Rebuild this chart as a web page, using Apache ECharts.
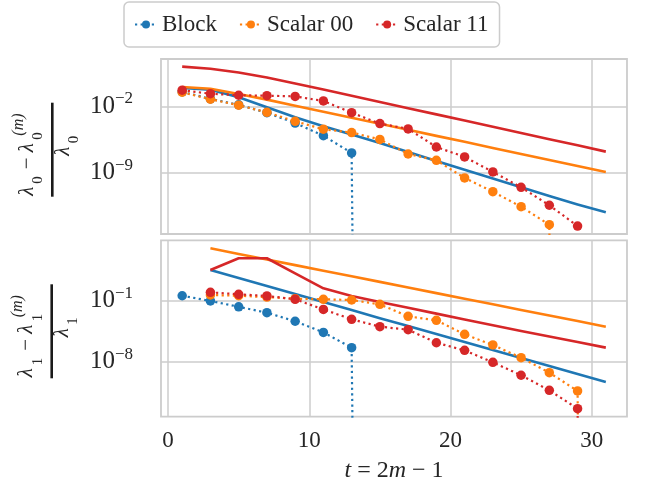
<!DOCTYPE html>
<html><head><meta charset="utf-8">
<script src="https://cdn.jsdelivr.net/npm/echarts@6/dist/echarts.min.js"></script>
<style>html,body{margin:0;padding:0;background:#fff}#c{width:654px;height:498px}</style>
</head><body><div id="c"></div>
<script>
// ---- data (errors; 0 = exact convergence) ----
const tBlock = [1, 3, 5, 7, 9, 11, 13, 15];
const tScalarTop = [1, 3, 5, 7, 9, 11, 13, 15, 17, 19, 21, 23, 25, 27, 29];
const tBoundTop = [1, 3, 5, 7, 9, 11, 13, 15, 17, 19, 21, 23, 25, 27, 29, 31];
const tBottom = [3, 5, 7, 9, 11, 13, 15, 17, 19, 21, 23, 25, 27, 29, 31];

// top panel: lambda_0
const blockTop = [3.3e-1, 6.0e-2, 1.4e-2, 2.1e-3, 1.7e-4, 7.9e-6, 1.2e-7, 0];
const scalar00Top = [3.0e-1, 5.5e-2, 1.3e-2, 2.3e-3, 2.6e-4, 3.8e-5, 1.7e-5, 3.2e-6, 9.3e-8, 2.0e-8, 2.8e-10, 1.0e-11, 2.6e-13, 3.3e-15, 0];
const scalar11Top = [4.9e-1, 2.1e-1, 1.45e-1, 1.3e-1, 1.1e-1, 3.6e-2, 2.1e-3, 1.5e-4, 4.1e-5, 5.1e-7, 4.6e-8, 1.2e-9, 2.9e-11, 3.7e-13, 2.4e-15];
const blockBoundTop = [8.5e-1, 5.6e-1, 8.9e-2, 7.8e-3, 6.9e-4, 7.8e-5, 1.07e-5, 1.35e-6, 1.5e-7, 1.74e-8, 2.0e-9, 2.4e-10, 2.9e-11, 3.5e-12, 4.5e-13, 6.8e-14];
const scalar00BoundTop = [1.07, 7.1e-1, 2.0e-1, 5.0e-2, 1.15e-2, 2.7e-3, 6.2e-4, 1.45e-4, 3.3e-5, 7.6e-6, 1.8e-6, 4.1e-7, 9.3e-8, 2.2e-8, 5.1e-9, 1.2e-9];
const scalar11BoundTop = [1.5e2, 91, 36, 10.7, 2.5, 5.8e-1, 1.3e-1, 2.8e-2, 6.3e-3, 1.4e-3, 3.1e-4, 6.9e-5, 1.55e-5, 3.4e-6, 7.6e-7, 1.66e-7];

// bottom panel: lambda_1
const blockBottom = [3.7e-1, 9.3e-2, 2.0e-2, 4.2e-3, 4.4e-4, 2.3e-5, 4.1e-7, 0];
const scalar00Bottom = [4.5e-1, 3.7e-1, 2.6e-1, 1.7e-1, 1.45e-1, 1.2e-1, 3.8e-2, 1.6e-3, 5.6e-4, 1.4e-5, 8.3e-7, 2.9e-8, 5.5e-10, 4.4e-12, 0];
const scalar11Bottom = [9.1e-1, 5.4e-1, 3.5e-1, 1.45e-1, 1.0e-2, 7.4e-4, 1.05e-4, 4.7e-5, 1.5e-6, 2.0e-7, 8.5e-9, 2.8e-10, 5.2e-12, 4.1e-14, 0];
const blockBoundBottom = [3.3e2, 40, 4.8, 5.9e-1, 7.1e-2, 8.5e-3, 1.0e-3, 1.23e-4, 1.5e-5, 1.8e-6, 2.2e-7, 2.6e-8, 3.2e-9, 3.9e-10, 4.7e-11];
const scalar00BoundBottom = [1.02e5, 2.3e4, 5.4e3, 1.2e3, 2.75e2, 63, 14.5, 3.2, 7.4e-1, 1.7e-1, 3.9e-2, 8.7e-3, 2.0e-3, 4.6e-4, 1.05e-4];
const scalar11BoundBottom = [3.3e2, 7.4e3, 7.4e3, 1.4e2, 2.6, 3.5e-1, 7.1e-2, 1.55e-2, 3.3e-3, 7.1e-4, 1.55e-4, 3.3e-5, 7.8e-6, 1.8e-6, 4.1e-7];

// ticks
const xTicks = [0, 10, 20, 30];
const yTicksTop = [1e-9, 1e-2];
const yTicksBottom = [1e-8, 1e-1];
const seriesNames = ['Block', 'Scalar 00', 'Scalar 11'];

// ---- chart ----
const FONT = '"Liberation Serif", "Times New Roman", serif';
const TXT = '#262626';
const GRIDC = '#cccccc';
const COLORS = ['#1f77b4', '#ff7f0e', '#d62728'];
const lg = v => (v > 0 ? Math.log10(v) : -300); // log scale, non-positive clipped far below
const pairs = (ts, vs) => ts.map((t, i) => [t, lg(vs[i])]);

function dotted(name, color, ts, vs, idx) {
  return {
    name, type: 'line', xAxisIndex: idx, yAxisIndex: idx, data: pairs(ts, vs),
    symbol: 'circle', symbolSize: 9.5, showSymbol: true, clip: true, animation: false, z: 3,
    itemStyle: { color, borderWidth: 0 },
    lineStyle: { color, width: 2.2, type: [2.2, 3.4] },
    emphasis: { disabled: true }
  };
}
function solid(name, color, ts, vs, idx) {
  return {
    name, type: 'line', xAxisIndex: idx, yAxisIndex: idx, data: pairs(ts, vs),
    symbol: 'none', showSymbol: false, clip: true, animation: false, z: 2,
    itemStyle: { color }, lineStyle: { color, width: 2.6, join: 'round' },
    emphasis: { disabled: true }
  };
}

const yLabel = v => '{b|10}{s|\u2212' + Math.round(Math.abs(v)) + '}';
function yAxis(idx, range, ticks) {
  const tv = ticks.map(v => Math.log10(v));
  return {
    type: 'value', gridIndex: idx, min: range[0], max: range[1],
    axisLine: { show: false },
    axisTick: { show: false, customValues: tv },
    axisLabel: {
      customValues: tv, margin: 28, formatter: yLabel,
      rich: {
        b: { fontSize: 25, fontFamily: FONT, color: TXT, lineHeight: 32 },
        s: { fontSize: 17, fontFamily: FONT, color: TXT, lineHeight: 17, verticalAlign: 'top' }
      }
    },
    splitLine: { show: true, lineStyle: { color: GRIDC, width: 1.5 } }
  };
}
function xAxis(idx) {
  const a = {
    type: 'value', gridIndex: idx, min: -0.5, max: 32.5,
    axisLine: { show: false },
    axisTick: { show: false, customValues: xTicks },
    axisLabel: { show: idx === 1, customValues: xTicks, margin: 13, fontSize: 23, fontFamily: FONT, color: TXT },
    splitLine: { show: true, lineStyle: { color: GRIDC, width: 1.5 } }
  };
  if (idx === 1) {
    a.name = '{i|t} = 2{i|m} \u2212 1';
    a.nameLocation = 'middle';
    a.nameGap = 42;
    a.nameTextStyle = {
      fontSize: 24, fontFamily: FONT, color: TXT,
      rich: { i: { fontSize: 24, fontFamily: FONT, fontStyle: 'italic', color: TXT } }
    };
  }
  return a;
}

function yTitle(cx, cy, k) {
  const f = (sz, it) => (it ? 'italic ' : '') + sz + 'px ' + FONT;
  const t = (text, x, y, font, align) => ({
    type: 'text', x, y, silent: true,
    style: { text, font, fill: TXT, align: align || 'left', verticalAlign: 'middle', textAlign: align || 'left', textVerticalAlign: 'middle' }
  });
  return {
    type: 'group', x: cx, y: cy, rotation: Math.PI / 2, silent: true,
    children: [
      t('\u03bb', -46, -25, f(21, true)),
      t(k, -34, -14, f(15)),
      t('\u2212', -13.6, -25, f(21), 'center'),
      t('\u03bb', -2.5, -25, f(21, true)),
      t(k, 10, -14, f(15)),
      t('(m)', 14, -34, f(16, true)),
      { type: 'rect', shape: { x: -47, y: -1.3, width: 94, height: 2.6 }, style: { fill: '#1a1a1a' }, silent: true },
      t('\u03bb', -6, 11, f(21, true)),
      t(k, 6.5, 21.5, f(15))
    ]
  };
}

const chart = echarts.init(document.getElementById('c'), null, { renderer: 'canvas' });
chart.setOption({
  animation: false,
  backgroundColor: '#ffffff',
  textStyle: { fontFamily: FONT },
  legend: {
    data: seriesNames, left: 124, top: 2, padding: [11, 11, 11, 10], itemGap: 22,
    itemWidth: 22, itemHeight: 10, borderColor: GRIDC, borderWidth: 1.5, borderRadius: 5,
    backgroundColor: '#ffffff', selectedMode: false,
    textStyle: { fontSize: 23, fontFamily: FONT, color: TXT }
  },
  grid: [
    { left: 161, top: 59, width: 466, height: 175, show: true, borderColor: GRIDC, borderWidth: 1.8, backgroundColor: 'transparent' },
    { left: 161, top: 240.3, width: 466, height: 176.4, show: true, borderColor: GRIDC, borderWidth: 1.8, backgroundColor: 'transparent' }
  ],
  xAxis: [xAxis(0), xAxis(1)],
  yAxis: [yAxis(0, [-15.46, 2.98], yTicksTop), yAxis(1, [-14.31, 5.93], yTicksBottom)],
  series: [
    solid('Block bound', COLORS[0], tBoundTop, blockBoundTop, 0),
    solid('Scalar 00 bound', COLORS[1], tBoundTop, scalar00BoundTop, 0),
    solid('Scalar 11 bound', COLORS[2], tBoundTop, scalar11BoundTop, 0),
    dotted(seriesNames[0], COLORS[0], tBlock, blockTop, 0),
    dotted(seriesNames[1], COLORS[1], tScalarTop, scalar00Top, 0),
    dotted(seriesNames[2], COLORS[2], tScalarTop, scalar11Top, 0),
    solid('Block bound', COLORS[0], tBottom, blockBoundBottom, 1),
    solid('Scalar 00 bound', COLORS[1], tBottom, scalar00BoundBottom, 1),
    solid('Scalar 11 bound', COLORS[2], tBottom, scalar11BoundBottom, 1),
    dotted(seriesNames[0], COLORS[0], tBlock, blockBottom, 1),
    dotted(seriesNames[1], COLORS[1], tBottom, scalar00Bottom, 1),
    dotted(seriesNames[2], COLORS[2], tBottom, scalar11Bottom, 1)
  ],
  graphic: [yTitle(52.3, 149.7, '0'), yTitle(51.7, 331.3, '1')]
});
</script>
</body></html>
